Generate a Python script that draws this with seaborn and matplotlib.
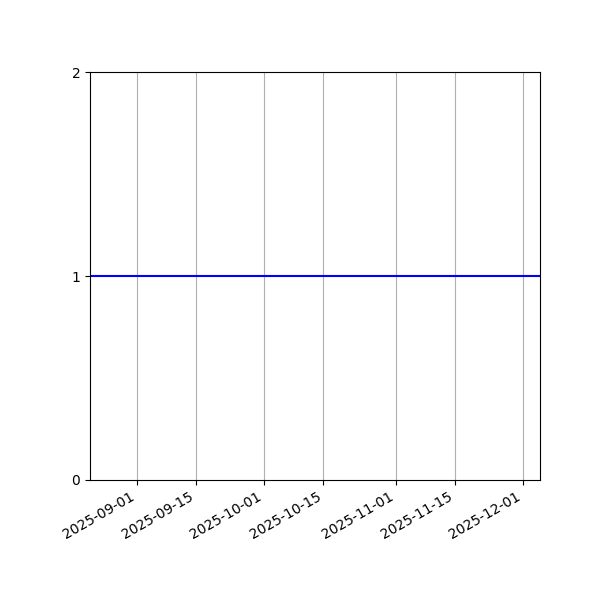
import pandas as pd
import matplotlib
matplotlib.use("Agg")
import matplotlib.pyplot as plt
import matplotlib.dates as mdates
import seaborn as sns

dates = ["2025-08-21", "2025-12-05"]
values = [1, 1]
y_ticks = [0, 1, 2]

df = pd.DataFrame({"date": pd.to_datetime(dates), "value": values})

fig, ax = plt.subplots(figsize=(6, 6), dpi=100)
sns.lineplot(data=df, x="date", y="value", color="blue", linewidth=1.5, ax=ax)

ax.set_xlim(df["date"].min(), df["date"].max())
ax.set_ylim(0, 2)
ax.set_yticks(y_ticks)
ax.set_xlabel("")
ax.set_ylabel("")
ax.xaxis.set_major_locator(mdates.AutoDateLocator())
ax.xaxis.set_major_formatter(mdates.DateFormatter("%Y-%m-%d"))
ax.grid(True, axis="x")

fig.autofmt_xdate()
fig.subplots_adjust(left=0.15, right=0.9, top=0.88, bottom=0.2)
fig.savefig("out.png")
